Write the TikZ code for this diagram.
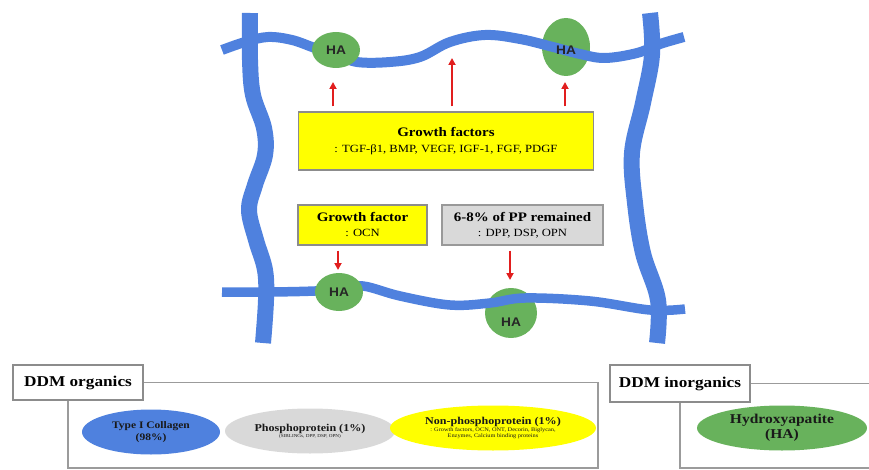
\documentclass[tikz,border=0pt]{standalone}
\usepackage{fontspec}
\setmainfont{Liberation Serif}[FakeStretch=1.15]
\newfontfamily\hafont{Liberation Sans}[FakeStretch=1.1]
\usetikzlibrary{shapes.geometric,arrows.meta,positioning}

\definecolor{fiber}{RGB}{79,129,222}
\definecolor{hagreen}{RGB}{104,178,92}
\definecolor{gfyellow}{RGB}{255,255,0}
\definecolor{ppgray}{RGB}{217,217,217}
\definecolor{framegray}{RGB}{155,155,155}
\definecolor{arrowred}{RGB}{225,30,30}

\newcommand{\boxhead}[1]{{\fontsize{13}{15}\selectfont\bfseries #1}}
\newcommand{\ellhead}[1]{{\fontsize{10.5}{12}\selectfont\bfseries #1}}

\tikzset{
  fib/.style={draw=fiber,line width=#1,line cap=butt,line join=round},
  fib/.default=10pt,
  ha/.style={ellipse,fill=hagreen,inner sep=0pt,text=black!85,
    font=\hafont\bfseries\fontsize{12.5}{12.5}\selectfont},
  halabel/.style={inner sep=0pt,text=black!85,font=\hafont\bfseries\fontsize{12.5}{12.5}\selectfont},
  infobox/.style={draw=black!45,line width=1.1pt,align=center,inner sep=2pt,
    font=\fontsize{11}{16}\selectfont},
  redarrow/.style={draw=arrowred,line width=2.2pt,shorten <=5pt,
    -{Triangle[length=7pt,width=7pt]}},
  part/.style={ellipse,inner sep=0pt,align=center,text=black!90},
  grouplabel/.style={draw=black!45,line width=1.1pt,fill=white,
    font=\fontsize{15}{15}\selectfont\bfseries},
  frameline/.style={draw=framegray,line width=1.1pt}
}

\begin{document}
\begin{tikzpicture}[x=1pt,y=-1pt]
\useasboundingbox (0,0) rectangle (869,470);

% HA lying under the fibers
\node[ha,minimum width=48pt,minimum height=58pt] (ha2) at (566,47) {};
\node[ha,minimum width=52pt,minimum height=50pt] (ha4) at (511,313) {};

% collagen fibers
\draw[fib=10pt] plot[smooth,tension=0.6] coordinates {(222,50) (245,42) (268,37) (292,40) (315,48) (336,54) (357,62) (390,62) (420,57) (450,42) (485,35) (520,39) (553,47) (580,54) (605,58) (637,53) (660,44) (684,37)};
\draw[fib=9.5pt] plot[smooth,tension=0.6] coordinates {(222,292) (270,292) (315,291) (339,289) (363,286) (400,296) (450,305) (490,303) (525,298) (590,301) (650,310) (685,309)};
\draw[fib=16pt] plot[smooth,tension=0.6] coordinates {(250,13) (250,60) (253,95) (264,128) (265,155) (255,185) (249,210) (256,240) (265,270) (266,300) (263,343)};
\draw[fib=16pt] plot[smooth,tension=0.6] coordinates {(650,13) (652,55) (643,103) (632,153) (635,203) (643,253) (658,300) (657,343)};

% HA on top of the fibers
\node[ha,minimum width=48pt,minimum height=36pt] (ha1) at (336,50) {HA};
\node[ha,minimum width=48pt,minimum height=38pt] (ha3) at (339,292) {HA};
\node[halabel] (ha2t) at ([yshift=-3pt]ha2) {HA};
\node[halabel] (ha4t) at ([yshift=-9pt]ha4) {HA};

% factor boxes
\node[infobox,fill=gfyellow,minimum width=295pt,minimum height=58pt] (gf) at (446,141)
  {\boxhead{Growth factors}\\: TGF-β1, BMP, VEGF, IGF-1, FGF, PDGF};
\node[infobox,fill=gfyellow,minimum width=129pt,minimum height=40pt] (gfo) at (362.5,225)
  {\boxhead{Growth factor}\\[-1pt]: OCN};
\node[infobox,fill=ppgray,draw=black!40,minimum width=161pt,minimum height=40pt] (pp) at (522.5,225)
  {\boxhead{6-8\% of PP remained}\\[-1pt]: DPP, DSP, OPN};

% arrows
\coordinate (up1) at (333,82);
\coordinate (up2) at (452,58);
\coordinate (up3) at (565,82);
\coordinate (dn1) at (338,270);
\coordinate (dn2) at (510,280);
\draw[redarrow] (gf.north -| up1) -- (up1);
\draw[redarrow] (gf.north -| up2) -- (up2);
\draw[redarrow] (gf.north -| up3) -- (up3);
\draw[redarrow] (gfo.south -| dn1) -- (dn1);
\draw[redarrow] (pp.south -| dn2) -- (dn2);

% DDM composition
\node[grouplabel,minimum width=130pt,minimum height=35pt] (org) at (78,382.5) {DDM organics};
\node[grouplabel,minimum width=140pt,minimum height=37pt] (inorg) at (680,383.5) {DDM inorganics};
\coordinate (orgbr) at (598,468);
\coordinate (inorgtr) at (869,382.5);
\coordinate (inorgbr) at (869,468);
\draw[frameline] (org.east) -| (orgbr) -| ([xshift=-10pt]org.south);
\draw[frameline] (inorg.east) -- (inorg.east -| inorgtr);
\draw[frameline] (inorg.south) |- (inorgbr);

\node[part,fill=fiber,minimum width=138pt,minimum height=45pt,
  font=\fontsize{10}{12}\selectfont\bfseries] (coll) at (151,432) {Type I Collagen\\(98\%)};
\node[part,fill=ppgray,minimum width=170pt,minimum height=45pt,
  font=\fontsize{4.5}{6}\selectfont] (phos) at (310,431)
  {\ellhead{Phosphoprotein (1\%)}\\(SIBLINGs, DPP, DSP, OPN)};
\node[part,fill=gfyellow,minimum width=206pt,minimum height=45pt,
  font=\fontsize{5.5}{6.5}\selectfont] (nonp) at (493,428)
  {\ellhead{Non-phosphoprotein (1\%)}\\: Growth factors, OCN, ONT, Decorin, Biglycan,\\Enzymes, Calcium binding proteins};
\node[part,fill=hagreen,minimum width=170pt,minimum height=45pt,
  font=\fontsize{13.5}{15}\selectfont\bfseries] (hyd) at (782,428) {Hydroxyapatite\\(HA)};
\end{tikzpicture}
\end{document}
